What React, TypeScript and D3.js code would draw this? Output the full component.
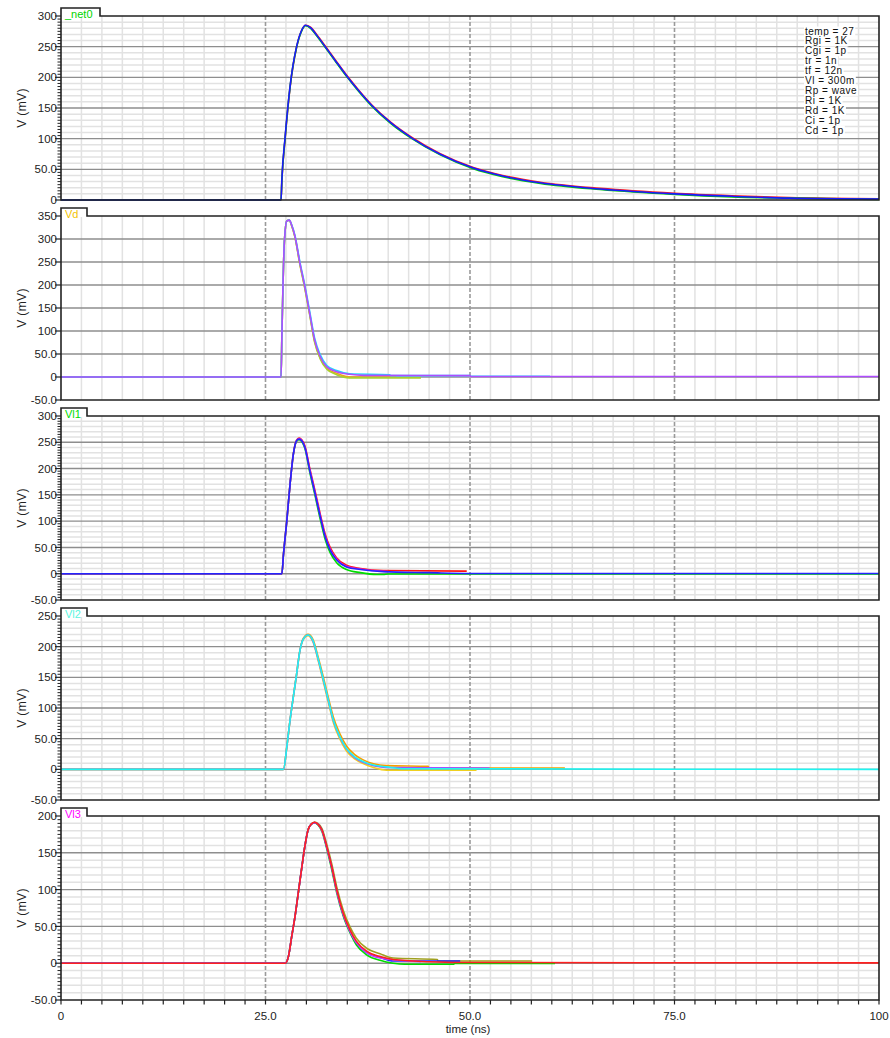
import React, { useEffect, useRef } from "react";
import * as d3 from "d3";

const W = 890;
const H = 1038;

const timeDomain = [0, 100];
const timeTicks = [0, 25, 50, 75, 100];
const timeTickLabels = ["0", "25.0", "50.0", "75.0", "100"];
const xLabel = "time (ns)";
const yLabel = "V (mV)";

const panelNames = ["_net0", "Vd", "Vl1", "Vl2", "Vl3"];
const panelNameColors = ["#00d400", "#f2c200", "#00dc00", "#5cf5e0", "#ff00ff"];
const panelMin = [0, -50, -50, -50, -50];
const panelMax = [300, 350, 300, 250, 200];
const panelMinorGrid = [true, false, true, true, true];

const paramLines = [
  "temp = 27",
  "Rgi = 1K",
  "Cgi = 1p",
  "tr = 1n",
  "tf = 12n",
  "Vl = 300m",
  "Rp = wave",
  "Ri = 1K",
  "Rd = 1K",
  "Ci = 1p",
  "Cd = 1p",
];

// ---------- Panel 1: _net0 ----------
const net0Time = [0, 26.9, 27.0, 27.4, 28.0, 28.8, 29.4, 29.9, 30.5, 31.3, 32.3, 33.5, 35.0, 36.4, 38.0, 40.3, 42.9, 46.3, 50.4, 54.0, 58.6, 65.9, 75.0, 82.0, 89.0, 100];
const net0Blue = [0, 0, 33, 103, 185, 250, 276, 285, 281, 268, 250, 228, 201, 178, 154, 126, 101, 75, 52, 39, 28, 18, 10, 6, 3, 1.5];
const net0Red = [0, 0, 31, 100, 183, 249, 276, 285, 282, 269, 251, 229, 202, 179, 155, 127, 102, 76, 53, 40, 29, 19, 11, 7, 4, 2];
const net0Green = [0, 0, 32, 101, 184, 249, 275, 284, 280, 267, 249, 227, 200, 177, 153, 125, 100, 74, 51, 38, 27, 17, 9, 5, 3, 1];

// ---------- Panel 2: Vd ----------
const vdTime = [0, 26.9, 27.0, 27.3, 27.6, 27.9, 28.2, 28.6, 29.2, 29.8, 30.4, 31.0, 31.7, 32.5, 33.7, 35.3, 37.0, 50.0, 50.1, 100];
const vdPurple = [0, 0, 87, 291, 339, 341, 330, 306, 248, 197, 139, 81, 44, 22, 11.5, 6, 3.5, 3, 1, 1];
const vdCyanTime = [0, 26.9, 27.0, 27.3, 27.6, 27.9, 28.2, 28.6, 29.2, 29.8, 30.4, 31.0, 31.7, 32.5, 33.7, 35.3, 40.2, 40.3, 50.0, 50.1, 59.8];
const vdCyan = [0, 0, 87, 291, 339, 341, 331, 308, 251, 200, 143, 85, 48, 25, 14, 7, 5, 3, 3, 1.5, 1.5];
const vdGreenTime = [0, 26.9, 27.0, 27.3, 27.6, 27.9, 28.2, 28.6, 29.2, 29.8, 30.4, 31.0, 31.7, 32.5, 33.7, 35.3, 44.0];
const vdGreen = [0, 0, 87, 291, 339, 341, 329, 304, 245, 193, 135, 76, 39, 17, 5, -2, -2];
const vdOrangeTime = [0, 26.9, 27.0, 27.3, 27.6, 27.9, 28.2, 28.6, 29.2, 29.8, 30.4, 31.0, 31.7, 32.5, 33.7, 35.3, 41.0];
const vdOrange = [0, 0, 87, 291, 339, 341, 329, 305, 246, 195, 137, 78, 41, 19, 8, 0, 0];

// ---------- Panel 3: Vl1 ----------
const vl1Time = [0, 27.0, 27.2, 27.6, 28.0, 28.4, 28.8, 29.1, 29.8, 30.4, 31.05, 31.7, 32.3, 32.9, 33.7, 34.9, 36.6, 39.4, 45.0, 50.0, 100];
const vl1Blue = [0, 0, 37, 100, 170, 227, 253, 256, 241, 197, 153, 108, 70, 45, 26, 13, 8, 4, 2, 0.5, 0.5];
const vl1RedTime = [0, 27.0, 27.2, 27.6, 28.0, 28.4, 28.8, 29.1, 29.8, 30.4, 31.05, 31.7, 32.3, 32.9, 33.7, 34.9, 36.6, 39.4, 49.6];
const vl1Red = [0, 0, 37, 100, 170, 227, 254, 258, 244, 201, 158, 113, 75, 50, 30, 16, 10, 6, 5];
const vl1GreenTime = [0, 27.0, 27.2, 27.6, 28.0, 28.4, 28.8, 29.1, 29.8, 30.4, 31.05, 31.7, 32.3, 32.9, 33.7, 34.9, 36.6, 38.6, 39.4, 40.0, 100];
const vl1Green = [0, 0, 37, 100, 170, 227, 252, 255, 239, 194, 149, 103, 65, 40, 21, 8, 2, -1.5, -1.5, -0.5, -0.5];
const vl1MagentaTime = [0, 27.0, 27.2, 27.6, 28.0, 28.4, 28.8, 29.1, 29.8, 30.4, 31.05, 31.7, 32.3, 32.9, 33.7, 34.9, 36.6, 40.0];
const vl1Magenta = [0, 0, 37, 100, 170, 227, 253, 257, 242, 199, 155, 110, 72, 47, 28, 14, 9, 4];

// ---------- Panel 4: Vl2 ----------
const vl2Time = [0, 27.2, 27.6, 28.0, 28.4, 28.8, 29.2, 29.6, 30.2, 30.8, 31.5, 32.1, 32.7, 33.3, 34.1, 34.9, 35.9, 37.0, 38.2, 39.8, 42.0, 100];
const vl2Cyan = [0, 0, 36, 80, 118, 155, 193, 212, 219, 210, 177, 145, 112, 80, 53, 34, 20.5, 12.5, 7, 4, 1, 0];
const vl2OrangeTime = [0, 27.2, 27.6, 28.0, 28.4, 28.8, 29.2, 29.6, 30.2, 30.8, 31.5, 32.1, 32.7, 33.3, 34.1, 34.9, 35.9, 37.0, 38.2, 39.8, 44.9, 45.0, 61.6];
const vl2Orange = [0, 0, 36, 80, 118, 155, 193, 213, 220, 212, 180, 149, 116, 85, 58, 38, 24, 15, 9, 6, 5, 2, 2];
const vl2YellowTime = [0, 27.2, 27.6, 28.0, 28.4, 28.8, 29.2, 29.6, 30.2, 30.8, 31.5, 32.1, 32.7, 33.3, 34.1, 34.9, 35.9, 37.0, 38.2, 39.8, 50.8];
const vl2Yellow = [0, 0, 36, 80, 118, 155, 193, 211, 218, 208, 174, 141, 108, 76, 49, 30, 17, 9, 3, -1.5, -1.5];
const vl2PurpleTime = [0, 27.2, 27.6, 28.0, 28.4, 28.8, 29.2, 29.6, 30.2, 30.8, 31.5, 32.1, 32.7, 33.3, 34.1, 34.9, 35.9, 37.0, 38.2, 39.8, 52.4];
const vl2Purple = [0, 0, 36, 80, 118, 155, 193, 212, 219, 209, 176, 144, 111, 79, 52, 33, 19, 11, 6, 3, 2];

// ---------- Panel 5: Vl3 ----------
const vl3Time = [0, 27.4, 27.8, 28.2, 28.6, 29.0, 29.4, 29.8, 30.2, 30.6, 31.0, 31.4, 31.9, 32.5, 33.1, 33.7, 34.5, 35.3, 36.1, 37.4, 39.0, 40.6, 45.0, 48.8, 100];
const vl3Red = [0, 0, 9, 36, 63, 95, 127, 158, 181, 189, 191.5, 189, 181, 158, 131, 100, 68, 46, 30, 16, 9, 5, 2, 1, 0.5];
const vl3OliveTime = [0, 27.4, 27.8, 28.2, 28.6, 29.0, 29.4, 29.8, 30.2, 30.6, 31.0, 31.4, 31.9, 32.5, 33.1, 33.7, 34.5, 35.3, 36.1, 37.4, 39.0, 40.6, 46.0, 46.1, 57.6];
const vl3Olive = [0, 0, 9, 36, 63, 95, 127, 158, 181, 189, 191.5, 190, 183, 161, 135, 104, 72, 50, 34, 20, 13, 7, 5, 3, 3];
const vl3GreenTime = [0, 27.4, 27.8, 28.2, 28.6, 29.0, 29.4, 29.8, 30.2, 30.6, 31.0, 31.4, 31.9, 32.5, 33.1, 33.7, 34.5, 35.3, 36.1, 37.4, 39.0, 40.6, 42.0, 48.0, 48.1, 60.4];
const vl3Green = [0, 0, 9, 36, 63, 95, 127, 158, 181, 189, 191, 188, 179, 155, 127, 96, 64, 42, 25, 11, 4, 0, -1.5, -1.5, -0.5, -0.5];
const vl3BlueTime = [0, 27.4, 27.8, 28.2, 28.6, 29.0, 29.4, 29.8, 30.2, 30.6, 31.0, 31.4, 31.9, 32.5, 33.1, 33.7, 34.5, 35.3, 36.1, 37.4, 39.0, 40.6, 48.8];
const vl3Blue = [0, 0, 9, 36, 63, 95, 127, 158, 181, 189, 191, 189, 181, 157, 130, 99, 66, 44, 28, 14, 8, 3, 3];
const vl3PurpleTime = [0, 27.4, 27.8, 28.2, 28.6, 29.0, 29.4, 29.8, 30.2, 30.6, 31.0, 31.4, 31.9, 32.5, 33.1, 33.7, 34.5, 35.3, 36.1, 37.4, 39.0, 44.0];
const vl3Purple = [0, 0, 9, 36, 63, 95, 127, 158, 181, 189, 191, 189, 180, 157, 130, 98, 66, 44, 28, 14, 7, 2];

type Trace = { color: string; t: number[]; v: number[] };

const panelTraces: Trace[][] = [
  [
    { color: "#ff2020", t: net0Time, v: net0Red },
    { color: "#00d000", t: net0Time, v: net0Green },
    { color: "#1a1aff", t: net0Time, v: net0Blue },
  ],
  [
    { color: "#f0a020", t: vdOrangeTime, v: vdOrange },
    { color: "#a8d030", t: vdGreenTime, v: vdGreen },
    { color: "#20d8ff", t: vdCyanTime, v: vdCyan },
    { color: "#b04cff", t: vdTime, v: vdPurple },
  ],
  [
    { color: "#ff1010", t: vl1RedTime, v: vl1Red },
    { color: "#00dd00", t: vl1GreenTime, v: vl1Green },
    { color: "#e020e0", t: vl1MagentaTime, v: vl1Magenta },
    { color: "#2424ff", t: vl1Time, v: vl1Blue },
  ],
  [
    { color: "#f5a000", t: vl2OrangeTime, v: vl2Orange },
    { color: "#f0d020", t: vl2YellowTime, v: vl2Yellow },
    { color: "#a050ff", t: vl2PurpleTime, v: vl2Purple },
    { color: "#20f4f0", t: vl2Time, v: vl2Cyan },
  ],
  [
    { color: "#a0a020", t: vl3OliveTime, v: vl3Olive },
    { color: "#00dd00", t: vl3GreenTime, v: vl3Green },
    { color: "#2020ff", t: vl3BlueTime, v: vl3Blue },
    { color: "#c040ff", t: vl3PurpleTime, v: vl3Purple },
    { color: "#ff2020", t: vl3Time, v: vl3Red },
  ],
];

const FONT = "'Liberation Sans', Arial, Helvetica, sans-serif";

function fmtTick(v: number): string {
  if (v === 0) return "0";
  if (Math.abs(v) < 100) return v.toFixed(1);
  return String(v);
}

export default function App() {
  const ref = useRef<SVGSVGElement>(null);

  useEffect(() => {
    document.body.style.margin = "0";
    const svg = d3.select(ref.current);
    svg.selectAll("*").remove();

    const left = 61;
    const right = 879;
    const x = d3.scaleLinear().domain(timeDomain).range([left, right]);

    svg.append("rect").attr("width", W).attr("height", H).attr("fill", "#ffffff");

    const minorTimes = d3.range(2.5, 100, 2.5).filter((t) => t % 25 !== 0);
    const majorTimes = timeTicks.filter((t) => t > 0 && t < 100);

    panelNames.forEach((name, i) => {
      const top = 16 + 200 * i;
      const bottom = 200 + 200 * i;
      const y = d3.scaleLinear().domain([panelMin[i], panelMax[i]]).range([bottom, top]);
      const g = svg.append("g");

      g.selectAll("line.mv")
        .data(minorTimes)
        .enter()
        .append("line")
        .attr("x1", (d) => x(d))
        .attr("x2", (d) => x(d))
        .attr("y1", top)
        .attr("y2", bottom)
        .attr("stroke", "#e2e2e2")
        .attr("stroke-width", 1.5);

      const majors = d3.range(panelMin[i], panelMax[i] + 0.01, 50);
      if (panelMinorGrid[i]) {
        const minorVals = d3.range(panelMin[i], panelMax[i] + 0.01, 10).filter((v) => v % 50 !== 0);
        g.selectAll("line.mh")
          .data(minorVals)
          .enter()
          .append("line")
          .attr("x1", left)
          .attr("x2", right)
          .attr("y1", (d) => y(d))
          .attr("y2", (d) => y(d))
          .attr("stroke", "#e2e2e2")
          .attr("stroke-width", 1.5);
        const minorTicks = d3.range(panelMin[i], panelMax[i] + 0.01, 5).filter((v) => v % 50 !== 0);
        g.selectAll("line.mt")
          .data(minorTicks)
          .enter()
          .append("line")
          .attr("x1", left - 3.5)
          .attr("x2", left)
          .attr("y1", (d) => y(d))
          .attr("y2", (d) => y(d))
          .attr("stroke", "#222")
          .attr("stroke-width", 1);
      }

      g.selectAll("line.Mh")
        .data(majors.filter((v) => v > panelMin[i] && v < panelMax[i]))
        .enter()
        .append("line")
        .attr("x1", left)
        .attr("x2", right)
        .attr("y1", (d) => y(d))
        .attr("y2", (d) => y(d))
        .attr("stroke", "#8e8e8e")
        .attr("stroke-width", 1.4);

      g.selectAll("line.Mv")
        .data(majorTimes)
        .enter()
        .append("line")
        .attr("x1", (d) => x(d))
        .attr("x2", (d) => x(d))
        .attr("y1", top)
        .attr("y2", bottom)
        .attr("stroke", "#9a9a9a")
        .attr("stroke-width", 1.6)
        .attr("stroke-dasharray", "4,2");

      g.selectAll("line.Mt")
        .data(majors)
        .enter()
        .append("line")
        .attr("x1", left - 6)
        .attr("x2", left)
        .attr("y1", (d) => y(d))
        .attr("y2", (d) => y(d))
        .attr("stroke", "#222")
        .attr("stroke-width", 1.2);
      g.selectAll("text.yl")
        .data(majors)
        .enter()
        .append("text")
        .attr("x", left - 4)
        .attr("y", (d) => y(d))
        .attr("dy", "0.36em")
        .attr("text-anchor", "end")
        .attr("font-family", FONT)
        .attr("font-size", 11.5)
        .attr("fill", "#222")
        .text((d) => fmtTick(d));

      g.append("text")
        .attr("transform", `translate(26,${(top + bottom) / 2}) rotate(-90)`)
        .attr("text-anchor", "middle")
        .attr("font-family", FONT)
        .attr("font-size", 12)
        .attr("fill", "#222")
        .attr("letter-spacing", 0.4)
        .text(yLabel);

      const line = d3
        .line<[number, number]>()
        .x((d) => x(d[0]))
        .y((d) => y(d[1]))
        .curve(d3.curveMonotoneX);
      panelTraces[i].forEach((tr) => {
        const pts: [number, number][] = tr.t.map((t, k) => [t, tr.v[k]]);
        g.append("path")
          .attr("d", line(pts) || "")
          .attr("fill", "none")
          .attr("stroke", tr.color)
          .attr("stroke-width", 1.6)
          .attr("stroke-linejoin", "round");
      });

      const tabW = i === 0 ? 39 : 26;
      g.append("path")
        .attr("d", `M${left},${bottom} V${top - 8} H${left + tabW} V${top} H${right} V${bottom} Z`)
        .attr("fill", "none")
        .attr("stroke", "#222")
        .attr("stroke-width", 1.6);
      g.append("rect")
        .attr("x", left + 1)
        .attr("y", top - 7)
        .attr("width", tabW - 2)
        .attr("height", 8)
        .attr("fill", "#fff");
      g.append("text")
        .attr("x", left + 4)
        .attr("y", top + 2)
        .attr("font-family", FONT)
        .attr("font-size", 11)
        .attr("fill", panelNameColors[i])
        .text(name);
    });

    const pg = svg.append("g");
    paramLines.forEach((s, k) => {
      const by = 34.5 + k * 9.9;
      const bg = pg.append("rect").attr("fill", "#fff");
      const t = pg
        .append("text")
        .attr("x", 805)
        .attr("y", by)
        .attr("font-family", FONT)
        .attr("font-size", 10)
        .attr("letter-spacing", 0.5)
        .attr("fill", "#111")
        .text(s);
      const node = t.node() as SVGTextElement;
      let w = s.length * 5.5;
      try {
        w = node.getComputedTextLength();
      } catch (e) {}
      bg.attr("x", 804).attr("y", by - 8).attr("width", w + 2).attr("height", 9.9);
    });

    const bottomY = 1000;
    const ax = svg.append("g");
    ax.selectAll("line.xt")
      .data(d3.range(0, 100.01, 2.5))
      .enter()
      .append("line")
      .attr("x1", (d) => x(d))
      .attr("x2", (d) => x(d))
      .attr("y1", bottomY)
      .attr("y2", bottomY + 4.5)
      .attr("stroke", "#222")
      .attr("stroke-width", 1.2);
    ax.selectAll("text.xl")
      .data(timeTicks)
      .enter()
      .append("text")
      .attr("x", (d) => x(d))
      .attr("y", 1020)
      .attr("text-anchor", "middle")
      .attr("font-family", FONT)
      .attr("font-size", 11.5)
      .attr("fill", "#222")
      .text((d, k) => timeTickLabels[k]);
    ax.append("text")
      .attr("x", 468)
      .attr("y", 1033)
      .attr("text-anchor", "middle")
      .attr("font-family", FONT)
      .attr("font-size", 11.5)
      .attr("fill", "#222")
      .text(xLabel);
  }, []);

  return <svg ref={ref} width={W} height={H} style={{ display: "block" }} />;
}
